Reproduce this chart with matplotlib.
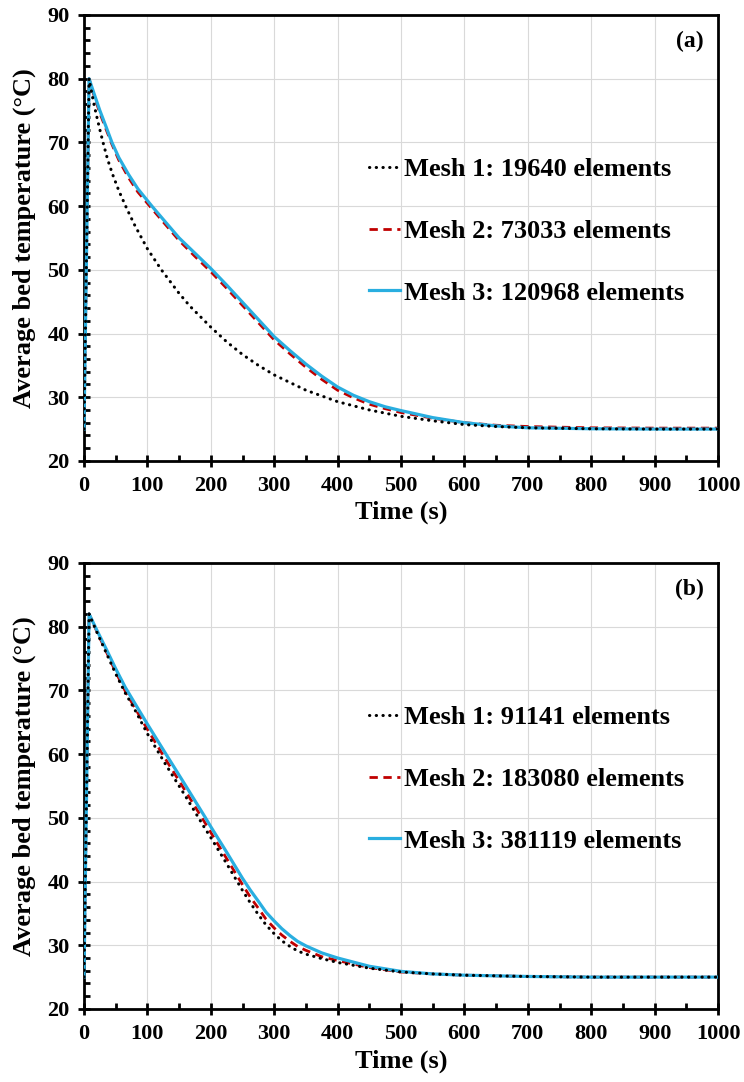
import numpy as np
import matplotlib
matplotlib.use('Agg')
import matplotlib.pyplot as plt
from matplotlib.ticker import MultipleLocator

plt.rcParams['font.family'] = ['Liberation Serif', 'DejaVu Serif']
plt.rcParams['font.weight'] = 'bold'

# Panel (a) - coarse meshes
t_a1 = [0, 8, 15, 20, 25, 30, 37, 45, 55, 67, 80, 100, 122, 150, 167, 200, 225, 250, 275, 300,
        350, 400, 450, 500, 550, 600, 650, 700, 800, 900, 1000]
T_a1 = [25, 80, 76.3, 74.1, 72.0, 70, 67.4, 65.0, 62.4, 59.7, 57.0, 53.3, 50.0, 46.3, 44.3, 41.0,
        38.7, 36.7, 35.0, 33.5, 31.1, 29.3, 28.0, 27.0, 26.3, 25.7, 25.4, 25.2, 25.05, 25.0, 25.0]
t_a23 = [0, 8, 15, 25, 35, 44, 55, 70, 85, 107, 125, 150, 175, 200, 225, 250, 275, 300, 325, 350,
         375, 400, 425, 450, 475, 500, 550, 600, 650, 700, 800, 900, 1000]
T_a2 = [25, 80, 77.6, 74.6, 72.0, 69.7, 67.2, 64.5, 62.2, 59.6, 57.5, 54.6, 52.1, 49.7, 47.1, 44.4,
        41.7, 39.0, 36.8, 34.7, 32.8, 31.1, 29.9, 28.9, 28.2, 27.6, 26.7, 26.0, 25.6, 25.4, 25.2,
        25.15, 25.15]
T_a3 = [25, 80, 77.9, 75, 72.4, 70, 67.6, 65, 62.7, 60, 57.9, 55, 52.6, 50.2, 47.6, 44.9,
        42.2, 39.5, 37.3, 35.2, 33.3, 31.6, 30.3, 29.3, 28.5, 27.9, 26.8, 26.0, 25.5, 25.2, 25.05,
        25.0, 25.0]

# Panel (b) - refined meshes
t_b = [0, 8, 20, 35, 50, 65, 80, 100, 128, 160, 191, 200, 225, 250, 262, 275, 287, 300, 312, 325,
       337, 350, 375, 400, 450, 500, 550, 600, 700, 800, 900, 1000]
T_b1 = [25, 82, 79.2, 75.9, 72.6, 69.6, 67.0, 63.2, 58.5, 53.4, 48.3, 46.9, 42.8, 38.6, 36.7, 34.8,
        33.2, 31.8, 30.7, 29.8, 29.1, 28.6, 27.9, 27.3, 26.4, 25.8, 25.5, 25.3, 25.1, 25.0, 25.0, 25.0]
T_b2 = [25, 82, 79.3, 76.1, 72.9, 69.9, 67.3, 63.9, 59.3, 54.2, 49.2, 47.7, 43.6, 39.5, 37.6, 35.8,
        34.1, 32.7, 31.6, 30.6, 29.8, 29.2, 28.2, 27.6, 26.5, 25.8, 25.5, 25.3, 25.1, 25.0, 25.0, 25.0]
T_b3 = [25, 82, 79.5, 76.5, 73.4, 70.5, 68.0, 64.7, 60.2, 55.1, 50.1, 48.6, 44.6, 40.5, 38.7, 36.9,
        35.2, 33.8, 32.6, 31.5, 30.6, 29.9, 28.8, 28.0, 26.7, 25.9, 25.5, 25.3, 25.1, 25.0, 25.0, 25.0]

labels_a = ['Mesh 1: 19640 elements', 'Mesh 2: 73033 elements', 'Mesh 3: 120968 elements']
labels_b = ['Mesh 1: 91141 elements', 'Mesh 2: 183080 elements', 'Mesh 3: 381119 elements']

BLUE = '#29aee0'
RED = '#c00000'


def draw_panel(ax, series, labels, tag):
    (t1, T1), (t2, T2), (t3, T3) = series
    h1, = ax.plot(t1, T1, color='black', ls=(0, (0.1, 2.1)), lw=2.2, zorder=4,
                  dash_capstyle='round')
    h2, = ax.plot(t2, T2, color=RED, ls=(0, (3.0, 2.0)), lw=2.0, zorder=2)
    h3, = ax.plot(t3, T3, color=BLUE, lw=2.3, zorder=3)

    ax.set_xlim(0, 1000)
    ax.set_ylim(20, 90)
    ax.xaxis.set_major_locator(MultipleLocator(100))
    ax.xaxis.set_minor_locator(MultipleLocator(50))
    ax.yaxis.set_major_locator(MultipleLocator(10))
    ax.yaxis.set_minor_locator(MultipleLocator(2))
    ax.grid(True, which='major', color='#d9d9d9', lw=0.8, zorder=0)
    ax.set_axisbelow(True)

    ax.tick_params(which='major', direction='inout', length=9, width=2.0,
                   labelsize=16, pad=6)
    ax.tick_params(which='minor', direction='in', length=4, width=2.0)
    for s in ax.spines.values():
        s.set_linewidth(2.0)

    ax.set_xlabel('Time (s)', fontsize=19, fontweight='bold', labelpad=4)
    ax.set_ylabel('Average bed temperature (°C)', fontsize=19,
                  fontweight='bold', labelpad=8)

    ax.text(0.955, 0.94, tag, transform=ax.transAxes, fontsize=17,
            fontweight='bold', ha='center', va='center')

    ax.legend([h1, h2, h3], labels, loc='upper left',
              bbox_to_anchor=(0.45, 0.68), frameon=False, fontsize=19,
              handlelength=1.15, handletextpad=0.15, labelspacing=1.45,
              borderpad=0, borderaxespad=0)


fig = plt.figure(figsize=(7.44, 10.82), dpi=100)
ax_a = fig.add_axes([0.1129, 0.574, 0.8522, 0.4122])
ax_b = fig.add_axes([0.1129, 0.0675, 0.8522, 0.4122])

draw_panel(ax_a, [(t_a1, T_a1), (t_a23, T_a2), (t_a23, T_a3)], labels_a, '(a)')
draw_panel(ax_b, [(t_b, T_b1), (t_b, T_b2), (t_b, T_b3)], labels_b, '(b)')

fig.savefig('out.png', dpi=100)
